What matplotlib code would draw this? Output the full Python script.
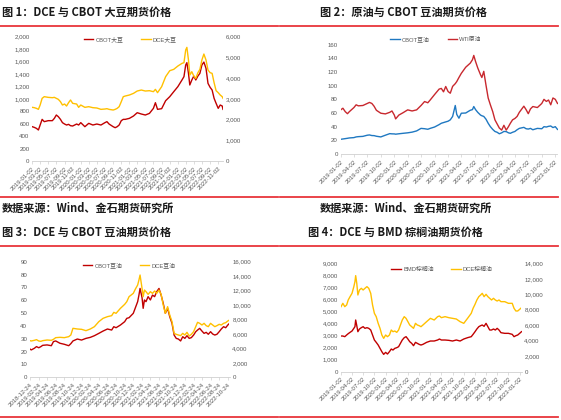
import matplotlib
matplotlib.use('Agg')
import matplotlib.pyplot as plt
import pandas as pd
from matplotlib.lines import Line2D
from matplotlib.ticker import FuncFormatter

plt.rcParams['font.family'] = ['Noto Sans CJK SC', 'DejaVu Sans']

# ---------------- data ----------------
titles = ['图 1：DCE 与 CBOT 大豆期货价格', '图 2：原油与 CBOT 豆油期货价格',
          '图 3：DCE 与 CBOT 豆油期货价格', '图 4：DCE 与 BMD 棕榈油期货价格']
source = '数据来源：Wind、金石期货研究所'

# Panel 1
d1 = ['2019-01-02','2019-01-17','2019-02-02','2019-02-17','2019-03-02','2019-03-17','2019-04-02','2019-05-02',
      '2019-06-02','2019-06-17','2019-07-02','2019-07-17','2019-08-02','2019-08-17','2019-09-02','2019-09-17',
      '2019-10-02','2019-10-17','2019-11-02','2019-12-02','2019-12-17','2020-01-02','2020-02-02','2020-03-02',
      '2020-04-02','2020-05-02','2020-06-02','2020-07-02','2020-07-17','2020-08-02','2020-09-02','2020-09-17',
      '2020-10-02','2020-10-17','2020-11-02','2020-11-17','2020-12-02','2021-01-02','2021-02-02','2021-03-02',
      '2021-04-02','2021-05-02','2021-06-02','2021-07-02','2021-07-17','2021-08-02','2021-09-02','2021-10-02',
      '2021-11-02','2021-12-02','2022-01-02','2022-02-02','2022-02-17','2022-03-02','2022-03-11','2022-03-23',
      '2022-04-02','2022-04-17','2022-05-02','2022-05-17','2022-06-02','2022-06-17','2022-07-02','2022-07-17',
      '2022-08-02','2022-08-17','2022-09-02','2022-09-17','2022-10-02','2022-10-17','2022-11-02','2022-11-17',
      '2022-12-02','2022-12-08']
cbot_soy = [552,541,525,499,579,670,633,649,649,686,740,713,670,617,595,579,590,568,563,595,
            579,617,552,606,579,595,579,617,633,595,552,536,552,579,649,670,670,686,724,777,
            756,740,766,847,938,831,842,970,1035,1115,1196,1303,1357,1544,1582,1410,1223,1303,1367,1303,
            1367,1410,1544,1592,1491,1249,1185,1142,1008,928,847,901,885,831]
dce_soy = [2590,2574,2541,2493,2702,3024,3105,3072,3056,3072,3024,2976,2863,2702,2750,2654,2815,2944,2783,2750,
           2590,2702,2590,2622,2574,2558,2493,2509,2525,2493,2461,2493,2541,2622,2863,3105,3137,3185,3265,3378,
           3426,3378,3394,3346,3458,3298,3587,4070,4359,4424,4584,4713,4745,5357,5485,4874,4150,4311,4102,3989,
           4263,4424,4874,5163,4874,4391,4263,4231,3780,3394,3298,3185,3105,3024]
ticks1 = ['2019-01-02','2019-03-02','2019-05-02','2019-07-02','2019-09-02','2019-11-02',
          '2020-01-02','2020-03-02','2020-05-02','2020-07-02','2020-09-02','2020-11-02',
          '2021-01-02','2021-03-02','2021-05-02','2021-07-02','2021-09-02','2021-11-02',
          '2022-01-02','2022-03-02','2022-05-02','2022-07-02','2022-09-02','2022-11-02']

# Panel 2
d2 = ['2019-01-02','2019-01-17','2019-02-02','2019-02-17','2019-03-02','2019-04-02','2019-04-17','2019-05-02',
      '2019-06-02','2019-07-02','2019-07-17','2019-08-02','2019-08-17','2019-09-02','2019-10-02','2019-11-02',
      '2019-12-02','2019-12-17','2020-01-02','2020-01-11','2020-02-02','2020-03-02','2020-04-02','2020-05-02',
      '2020-06-02','2020-07-02','2020-07-26','2020-08-17','2020-09-02','2020-10-02','2020-11-02','2020-11-17',
      '2020-12-02','2020-12-17','2021-01-02','2021-01-17','2021-02-02','2021-02-20','2021-03-02','2021-03-17',
      '2021-04-02','2021-05-02','2021-06-02','2021-06-17','2021-06-26','2021-07-08','2021-07-23','2021-08-11',
      '2021-08-20','2021-09-02','2021-09-17','2021-10-02','2021-10-17','2021-11-02','2021-11-17','2021-12-02',
      '2021-12-17','2022-01-02','2022-01-17','2022-02-02','2022-02-17','2022-03-02','2022-03-17','2022-04-02',
      '2022-04-17','2022-05-02','2022-06-02','2022-06-17','2022-07-02','2022-07-17','2022-08-02','2022-09-02',
      '2022-10-02','2022-10-17','2022-11-02','2022-11-17','2022-12-02','2022-12-17','2023-01-02','2023-01-17']
wti = [64.6,67,62,59,62,68,72,70.5,71,74,75.5,74,70,64,59.7,58.7,61,63,57,51.4,
       57,60.5,64.6,63,64.6,71,76.8,75,79,87,95,96,91,98.8,91.5,89,99,103,106,112,
       118,127,133,138,144.3,135.5,126,116,112,121,101,82,72,62,50,44,38,35,42,35,
       40,45,50,52,55,61,70,65,59,66,69.5,68,74,80,77,79,72,82,80,74]
cbot_oil2 = [21.5,22,22.5,23,23.5,24,25,25.4,25.8,27.5,27.9,27,26.9,26,25,27.5,29.8,29.5,29.4,29,
             29.6,30.3,31,32,33.8,37.5,37,36.2,37.5,39.5,43,45,46,47,48,50,55,71,58,52.4,
             59.7,60,64,65,69.5,65,61,57,56,55,51,45,40,36,33,31.8,29.6,31,33,32.8,
             31,30.3,31.8,33,35.5,37.5,39,37,36.5,37.5,35.5,37.5,37,40,39.5,40.5,41,38.7,40,36]
ticks2 = ['2019-01-02','2019-04-02','2019-07-02','2019-10-02','2020-01-02','2020-04-02','2020-07-02',
          '2020-10-02','2021-01-02','2021-04-02','2021-07-02','2021-10-02','2022-01-02','2022-04-02',
          '2022-07-02','2022-10-02','2023-01-02']

# Panel 3
d3 = ['2018-12-24','2019-01-02','2019-01-24','2019-02-08','2019-02-24','2019-03-11','2019-03-24','2019-04-24',
      '2019-05-24','2019-06-08','2019-06-24','2019-07-24','2019-08-24','2019-09-24','2019-10-09','2019-10-24',
      '2019-11-24','2019-12-24','2020-01-24','2020-02-24','2020-03-24','2020-04-24','2020-05-24','2020-06-24',
      '2020-07-24','2020-08-08','2020-08-24','2020-09-24','2020-10-24','2020-11-08','2020-11-24','2020-12-24',
      '2021-01-08','2021-01-24','2021-02-02','2021-02-10','2021-02-24','2021-03-04','2021-03-13','2021-03-24',
      '2021-04-08','2021-04-24','2021-05-09','2021-05-24','2021-06-08','2021-06-24','2021-07-09','2021-07-24',
      '2021-08-08','2021-08-24','2021-09-08','2021-09-24','2021-10-09','2021-10-24','2021-11-08','2021-11-24',
      '2021-12-09','2021-12-24','2022-01-08','2022-01-24','2022-02-08','2022-02-24','2022-03-11','2022-03-24',
      '2022-04-08','2022-04-24','2022-05-09','2022-05-24','2022-06-08','2022-06-24','2022-07-09','2022-07-24',
      '2022-08-08','2022-08-24','2022-09-08','2022-09-24','2022-10-09','2022-10-24','2022-11-05']
cbot_oil3 = [22,21.3,22.6,23.9,23,23.9,24.9,25.2,24.6,27.8,28.3,26.5,25.7,24.6,26.2,28.3,29.8,29,30.3,31.1,
             32.4,34.2,36,37.6,36.8,39.4,38.6,40.7,43.3,45.9,46.4,49.8,54.2,58.9,64,69.2,62,53.7,60.2,58.9,
             62.8,60.2,64,62.8,66.7,69.2,64,57.6,49.8,53.7,47.2,42,32.9,30.3,29.8,28.3,31.6,30.3,32.4,30.3,
             30.9,32.9,35.5,36.8,38.1,36,34.2,35,33.5,35.5,33.7,32.9,33.5,35.5,37.6,39.4,38.6,40.7,42]
dce_oil3 = [5072,5026,5118,5210,5026,4980,5072,5164,5118,5256,5487,5533,5487,5625,5856,6778,6686,6640,6455,6686,
            7009,7700,8161,8392,8530,8991,8853,9545,10098,10467,11159,11620,12219,12772,13464,14156,12311,11159,12081,11850,
            11481,11850,11620,11942,11620,12081,11481,10006,8853,9775,8622,7700,6086,5948,5856,5764,6086,5856,6225,5718,
            5948,6317,7009,7608,7470,7239,7470,7147,7009,7470,7239,7009,7147,7331,7239,7470,7562,7793,7931]
ticks3 = ['2018-12-24','2019-02-24','2019-04-24','2019-06-24','2019-08-24','2019-10-24','2019-12-24',
          '2020-02-24','2020-04-24','2020-06-24','2020-08-24','2020-10-24','2020-12-24',
          '2021-02-24','2021-04-24','2021-06-24','2021-08-24','2021-10-24','2021-12-24',
          '2022-02-24','2022-04-24','2022-06-24','2022-08-24','2022-10-24']

# Panel 4
d4 = ['2019-01-02','2019-01-17','2019-02-02','2019-02-17','2019-03-02','2019-03-17','2019-04-02','2019-04-17',
      '2019-04-26','2019-05-02','2019-05-11','2019-05-20','2019-06-02','2019-06-17','2019-07-02','2019-07-17',
      '2019-08-02','2019-08-17','2019-09-02','2019-09-17','2019-10-02','2019-10-17','2019-11-02','2019-11-17',
      '2019-12-02','2019-12-17','2020-01-02','2020-01-17','2020-02-02','2020-02-17','2020-03-02','2020-03-17',
      '2020-04-02','2020-04-17','2020-05-02','2020-05-17','2020-06-02','2020-06-17','2020-07-02','2020-07-17',
      '2020-08-02','2020-08-17','2020-09-02','2020-09-17','2020-10-02','2020-10-17','2020-11-02','2020-12-02',
      '2021-01-02','2021-02-02','2021-03-02','2021-03-17','2021-04-02','2021-05-02','2021-06-02','2021-07-02',
      '2021-08-02','2021-09-02','2021-10-02','2021-11-02','2021-12-02','2021-12-17','2022-01-02','2022-01-17',
      '2022-02-02','2022-02-17','2022-03-02','2022-03-17','2022-04-02','2022-04-17','2022-05-02','2022-05-17',
      '2022-06-02','2022-06-17','2022-07-02','2022-07-17','2022-08-02','2022-09-02','2022-10-02','2022-11-02',
      '2022-11-17','2022-12-02','2022-12-17','2023-01-02','2023-01-17']
bmd_palm = [2963,2963,2908,3046,3157,3268,3378,3600,3738,4292,3822,3323,
            3545,3655,3738,3600,3655,3600,3462,3046,2631,2437,2215,1938,1662,1440,1606,1468,1662,1883,
            1800,1938,1994,2077,2354,2631,2825,2908,2714,2492,2354,2160,2437,2354,2271,2215,2271,
            2437,2548,2548,2631,2714,2631,2631,2603,2548,2631,2548,2714,2825,2908,
            3102,3323,3545,3738,3822,3877,3766,4015,3738,3462,3462,3545,3462,3600,3462,
            3240,3185,3185,3102,2908,2991,3046,3185,3323]
dce_palm = [8400,8831,8400,8615,9262,9692,10123,10985,11631,12406,11415,9908,
            10554,10769,10554,10769,10985,10769,10123,8615,7538,7108,6246,5600,4738,4308,4738,4523,4738,5385,
            5169,5255,5083,5385,6031,6677,7108,6892,6462,6031,5815,5600,6246,6031,5945,5815,6031,
            6462,6892,6677,7108,7194,6977,7108,6977,6892,6805,6462,6246,6892,7538,
            8185,8702,9262,9692,9908,10123,9692,9994,9692,9477,9262,9477,9262,9131,9262,
            9046,9046,8831,8831,8185,7840,7840,8055,8271]
ticks4 = ticks2

RED = '#C00000'
GOLD = '#FFC000'
BLUE = '#1F78C1'
WTI_RED = '#C8282E'
HDR = '#E8353B'
GRAY = '#595959'
AX = '#D0D0D0'
TICKFONT = ['Liberation Sans', 'Noto Sans CJK SC']

W, H = 561, 420
fig = plt.figure(figsize=(W / 100, H / 100), dpi=100)


def rect(x0, x1, ytop, ybot):
    return [x0 / W, 1 - ybot / H, (x1 - x0) / W, (ybot - ytop) / H]


def hline(x0, x1, y, lw=1.3, color=HDR):
    fig.add_artist(Line2D([x0 / W, x1 / W], [1 - y / H, 1 - y / H], color=color, lw=lw,
                          transform=fig.transFigure))


comma = FuncFormatter(lambda v, p: f'{v:,.0f}')


def style(ax, ticks, xlim, ylim, ystep, fmt=None):
    for s in ['top', 'left', 'right']:
        ax.spines[s].set_visible(False)
    ax.spines['bottom'].set_color(AX)
    ax.spines['bottom'].set_linewidth(0.6)
    ax.set_xlim(pd.to_datetime(xlim[0]), pd.to_datetime(xlim[1]))
    ax.set_ylim(*ylim)
    ax.set_yticks(range(ylim[0], ylim[1] + 1, ystep))
    if fmt:
        ax.yaxis.set_major_formatter(fmt)
    ax.set_xticks(pd.to_datetime(ticks))
    ax.set_xticklabels(ticks, rotation=45, ha='right', rotation_mode='anchor')
    ax.tick_params(axis='x', length=2, width=0.5, color=AX, pad=1.5, labelsize=4.4, labelcolor=GRAY)
    ax.tick_params(axis='y', length=0, pad=2, labelsize=4.4, labelcolor=GRAY)
    for t in ax.get_xticklabels() + ax.get_yticklabels():
        t.set_fontfamily(TICKFONT)


def style_right(ax2, ylim, ystep):
    for s in ['top', 'left', 'right', 'bottom']:
        ax2.spines[s].set_visible(False)
    ax2.set_ylim(*ylim)
    ax2.set_yticks(range(ylim[0], ylim[1] + 1, ystep))
    ax2.yaxis.set_major_formatter(comma)
    ax2.tick_params(axis='y', length=0, pad=2, labelsize=4.4, labelcolor=GRAY)
    for t in ax2.get_yticklabels():
        t.set_fontfamily(TICKFONT)


def legend(ax, handles, labels, x, y):
    lg = ax.legend(handles, labels, loc='center', bbox_to_anchor=(x, y), ncol=2, frameon=False,
                   handlelength=1.6, handletextpad=0.4, columnspacing=3.0,
                   prop={'family': TICKFONT, 'size': 4.2})
    for t in lg.get_texts():
        t.set_color(GRAY)


# titles, header lines, sources
TXT = dict(fontsize=8, va='center', ha='left', color='#1a1a1a', fontweight='bold')
fig.text(2 / W, 1 - 12 / H, titles[0], **TXT)
fig.text(320 / W, 1 - 12 / H, titles[1], **TXT)
fig.text(2 / W, 1 - 232 / H, titles[2], **TXT)
fig.text(308 / W, 1 - 232 / H, titles[3], **TXT)
fig.text(2 / W, 1 - 208 / H, source, **TXT)
fig.text(320 / W, 1 - 208 / H, source, **TXT)
hline(0, 278, 25.5)
hline(280, 558, 25.5)
hline(0, 278, 196.5)
hline(280, 558, 196.5)
hline(0, 278, 246)
hline(280, 558, 246)
hline(0, 278, 417)
hline(280, 558, 417)

LW = 1.0
# Panel 1
ax1 = fig.add_axes(rect(32.3, 223, 36.7, 161))
ax1b = ax1.twinx()
l1, = ax1.plot(pd.to_datetime(d1), cbot_soy, color=RED, lw=LW)
l2, = ax1b.plot(pd.to_datetime(d1), dce_soy, color=GOLD, lw=LW)
style(ax1, ticks1, (d1[0], d1[-1]), (0, 2000), 200, comma)
style_right(ax1b, (0, 6000), 1000)
legend(ax1b, [l1, l2], ['CBOT大豆', 'DCE大豆'], 0.515, 0.98)

# Panel 2
ax2 = fig.add_axes(rect(340.7, 557.5, 44.7, 154))
l3, = ax2.plot(pd.to_datetime(d2), cbot_oil2, color=BLUE, lw=LW)
l4, = ax2.plot(pd.to_datetime(d2), wti, color=WTI_RED, lw=LW)
style(ax2, ticks2, (d2[0], d2[-1]), (0, 160), 20)
legend(ax2, [l3, l4], ['CBOT豆油', 'WTI原油'], 0.44, 1.05)

# Panel 3
ax3 = fig.add_axes(rect(30, 229.5, 261.7, 377.3))
ax3b = ax3.twinx()
l5, = ax3.plot(pd.to_datetime(d3), cbot_oil3, color=RED, lw=LW)
l6, = ax3b.plot(pd.to_datetime(d3), dce_oil3, color=GOLD, lw=LW)
style(ax3, ticks3, (d3[0], d3[-1]), (0, 90), 10)
style_right(ax3b, (0, 16000), 2000)
legend(ax3b, [l5, l6], ['CBOT豆油', 'DCE豆油'], 0.497, 0.97)

# Panel 4
ax4 = fig.add_axes(rect(341, 521.5, 263.3, 371.7))
ax4b = ax4.twinx()
l7, = ax4.plot(pd.to_datetime(d4), bmd_palm, color=RED, lw=LW)
l8, = ax4b.plot(pd.to_datetime(d4), dce_palm, color=GOLD, lw=LW)
style(ax4, ticks4, (d4[0], d4[-1]), (0, 9000), 1000, comma)
style_right(ax4b, (0, 14000), 2000)
legend(ax4b, [l7, l8], ['BMD棕榈油', 'DCE棕榈油'], 0.56, 0.94)

fig.savefig('out.png', dpi=100)
